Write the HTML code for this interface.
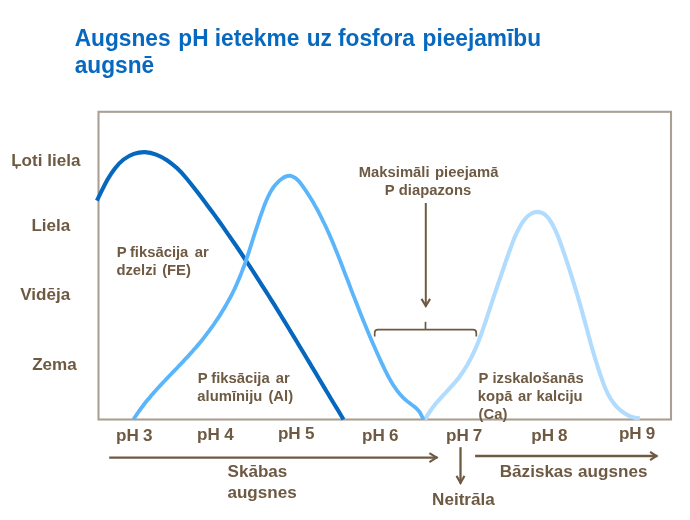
<!DOCTYPE html>
<html lang="lv">
<head>
<meta charset="utf-8">
<title>Augsnes pH ietekme uz fosfora pieejamību augsnē</title>
<style>
html,body{margin:0;padding:0;background:#fff;}
body{width:690px;height:520px;overflow:hidden;position:relative;font-family:"Liberation Sans",sans-serif;}
svg{position:absolute;left:0;top:0;display:block;}
text{font-family:"Liberation Sans",sans-serif;font-weight:bold;}
.t{fill:#0669bf;font-size:23px;}
.y{fill:#6e5a43;font-size:16.8px;}
.s{fill:#6e5a43;font-size:14.3px;}
</style>
</head>
<body>
<svg width="690" height="520" viewBox="0 0 690 520">
  <rect x="0" y="0" width="690" height="520" fill="#ffffff"/>


  <!-- chart frame -->
  <rect x="98.5" y="111.8" width="572.5" height="307.7" fill="none" stroke="#ab9f93" stroke-width="2.1"/>

  <!-- curves -->
  <path d="M96.9,200.6C98.4,197.5 100.1,194.0 101.9,190.4C103.7,186.7 105.6,182.9 107.7,179.2C109.9,175.4 112.3,171.7 114.9,168.4C117.5,165.0 120.4,162.0 123.6,159.5C126.8,157.1 130.2,155.2 133.8,153.9C137.4,152.6 141.2,152.0 144.9,152.1C148.7,152.3 152.5,153.2 156.2,154.6C159.9,156.0 163.5,157.9 167.0,160.2C170.5,162.6 173.8,165.2 176.9,168.1C179.9,170.9 182.7,173.9 185.3,177.0C188.0,180.1 190.5,183.3 193.0,186.5C195.5,189.6 197.9,192.8 200.4,196.0C202.8,199.2 205.2,202.4 207.6,205.7C210.0,208.9 212.4,212.2 214.8,215.4C217.1,218.7 219.5,221.9 221.8,225.2C224.1,228.5 226.4,231.8 228.7,235.1C231.0,238.4 233.3,241.7 235.6,245.0C237.8,248.3 240.1,251.7 242.3,255.0C244.5,258.4 246.7,261.7 249.0,265.1C251.2,268.4 253.4,271.8 255.5,275.2C257.7,278.6 259.9,281.9 262.0,285.3C264.2,288.7 266.3,292.1 268.5,295.5C270.6,298.9 272.8,302.3 274.9,305.7C277.0,309.2 279.1,312.6 281.2,316.0C283.3,319.4 285.4,322.9 287.5,326.3C289.6,329.7 291.7,333.2 293.8,336.6C295.9,340.1 297.9,343.5 300.0,347.0C302.1,350.4 304.2,353.9 306.2,357.3C308.3,360.8 310.4,364.2 312.4,367.7C314.5,371.1 316.6,374.6 318.6,378.0C320.7,381.5 322.8,385.0 324.8,388.4C326.9,391.9 329.0,395.3 331.0,398.8C333.1,402.2 335.2,405.7 337.3,409.1C339.3,412.6 341.4,416.1 343.5,419.5" fill="none" stroke="#0567bd" stroke-width="4.1"/>
  <path d="M425.1,419.6C426.0,417.8 426.9,416.1 428.0,414.4C429.0,412.7 430.1,411.1 431.3,409.5C432.5,407.8 433.7,406.3 434.9,404.7C436.2,403.2 437.5,401.6 438.9,400.1C440.2,398.6 441.6,397.1 442.9,395.6C444.3,394.1 445.7,392.6 447.1,391.1C448.5,389.6 449.9,388.1 451.2,386.6C452.6,385.1 453.9,383.6 455.2,382.1C456.5,380.5 457.8,379.0 459.0,377.4C460.2,375.8 461.4,374.1 462.5,372.5C463.6,370.9 464.7,369.2 465.7,367.5C466.8,365.8 467.8,364.1 468.7,362.3C469.7,360.6 470.6,358.8 471.5,357.1C472.4,355.3 473.3,353.5 474.1,351.7C474.9,349.9 475.7,348.0 476.5,346.2C477.3,344.3 478.0,342.5 478.8,340.6C479.5,338.7 480.2,336.9 480.9,335.0C481.6,333.1 482.3,331.2 482.9,329.3C483.6,327.4 484.3,325.5 484.9,323.5C485.6,321.6 486.2,319.7 486.8,317.8C487.5,315.8 488.1,313.9 488.7,312.0C489.3,310.1 490.0,308.1 490.6,306.2C491.2,304.3 491.9,302.4 492.5,300.5C493.2,298.5 493.8,296.6 494.4,294.7C495.1,292.8 495.7,290.9 496.4,289.0C497.0,287.1 497.7,285.1 498.3,283.2C499.0,281.3 499.6,279.4 500.3,277.5C500.9,275.7 501.6,273.8 502.2,271.9C502.9,270.0 503.5,268.1 504.2,266.2C504.8,264.4 505.5,262.5 506.1,260.6C506.8,258.7 507.4,256.9 508.1,255.0C508.7,253.2 509.4,251.3 510.1,249.5C510.7,247.6 511.4,245.8 512.1,243.9C512.8,242.1 513.5,240.3 514.2,238.4C515.0,236.6 515.8,234.7 516.7,232.9C517.6,231.0 518.6,229.2 519.6,227.3C520.6,225.4 521.8,223.5 523.0,221.7C524.2,220.0 525.6,218.3 527.0,216.8C528.5,215.4 530.1,214.2 531.8,213.3C533.5,212.5 535.4,212.0 537.3,211.9C539.2,211.9 541.1,212.3 542.7,213.2C544.4,214.0 545.9,215.3 547.3,216.9C548.7,218.4 549.9,220.2 551.1,222.1C552.2,224.0 553.3,225.9 554.2,227.8C555.1,229.7 556.0,231.6 556.8,233.5C557.6,235.3 558.3,237.2 559.0,239.0C559.7,240.8 560.3,242.7 561.0,244.5C561.7,246.4 562.3,248.2 563.0,250.1C563.6,252.0 564.3,253.8 564.9,255.7C565.5,257.6 566.2,259.5 566.8,261.4C567.4,263.3 568.1,265.2 568.7,267.1C569.3,269.0 569.9,270.9 570.5,272.8C571.1,274.7 571.7,276.6 572.3,278.6C572.9,280.5 573.5,282.4 574.1,284.3C574.7,286.3 575.3,288.2 575.9,290.1C576.4,292.1 577.0,294.0 577.6,295.9C578.2,297.9 578.7,299.8 579.3,301.8C579.8,303.7 580.4,305.7 581.0,307.6C581.5,309.5 582.0,311.5 582.6,313.4C583.1,315.4 583.7,317.3 584.2,319.3C584.7,321.2 585.3,323.1 585.8,325.1C586.3,327.0 586.8,328.9 587.4,330.9C587.9,332.8 588.4,334.7 588.9,336.7C589.5,338.6 590.0,340.5 590.5,342.5C591.1,344.4 591.6,346.3 592.1,348.2C592.7,350.2 593.2,352.1 593.8,354.0C594.3,355.9 594.9,357.8 595.5,359.8C596.1,361.7 596.7,363.6 597.3,365.5C597.9,367.4 598.5,369.3 599.1,371.2C599.7,373.1 600.4,375.0 601.1,376.9C601.7,378.8 602.4,380.7 603.1,382.6C603.8,384.5 604.5,386.4 605.3,388.3C606.1,390.1 606.9,391.9 607.8,393.7C608.8,395.5 609.7,397.3 610.8,399.0C611.9,400.7 613.0,402.3 614.3,403.9C615.5,405.5 616.9,407.0 618.4,408.4C619.8,409.8 621.4,411.1 623.0,412.2C624.6,413.4 626.4,414.4 628.2,415.3C630.0,416.2 631.8,416.9 633.8,417.4C635.7,417.9 637.7,418.2 639.8,418.3" fill="none" stroke="#b1dcfd" stroke-width="4.1"/>
  <path d="M133.5,419.4C134.4,418.0 135.3,416.6 136.2,415.2C137.2,413.8 138.1,412.4 139.1,411.0C140.1,409.7 141.1,408.3 142.1,407.0C143.1,405.7 144.1,404.3 145.1,403.0C146.2,401.7 147.2,400.4 148.3,399.1C149.4,397.9 150.4,396.6 151.5,395.3C152.6,394.0 153.7,392.8 154.8,391.5C155.9,390.3 157.0,389.1 158.2,387.8C159.3,386.6 160.4,385.4 161.6,384.1C162.7,382.9 163.8,381.7 165.0,380.5C166.1,379.3 167.3,378.0 168.5,376.8C169.6,375.6 170.8,374.4 171.9,373.2C173.1,372.0 174.3,370.8 175.4,369.6C176.6,368.4 177.7,367.2 178.9,365.9C180.1,364.7 181.2,363.5 182.4,362.3C183.5,361.1 184.7,359.9 185.8,358.6C187.0,357.4 188.1,356.2 189.2,354.9C190.4,353.7 191.5,352.4 192.6,351.2C193.7,349.9 194.8,348.7 195.9,347.4C197.0,346.1 198.1,344.8 199.2,343.6C200.2,342.3 201.3,341.0 202.4,339.7C203.4,338.3 204.5,337.0 205.5,335.7C206.5,334.4 207.5,333.0 208.5,331.7C209.5,330.3 210.5,329.0 211.5,327.6C212.5,326.2 213.5,324.9 214.4,323.5C215.4,322.1 216.3,320.7 217.2,319.3C218.2,317.9 219.1,316.5 220.0,315.1C220.9,313.7 221.8,312.2 222.6,310.8C223.5,309.4 224.4,308.0 225.2,306.5C226.0,305.1 226.9,303.6 227.7,302.1C228.5,300.7 229.3,299.2 230.1,297.8C230.9,296.3 231.6,294.8 232.4,293.3C233.1,291.8 233.8,290.3 234.6,288.8C235.3,287.3 236.0,285.8 236.7,284.3C237.3,282.8 238.0,281.3 238.6,279.8C239.3,278.3 239.9,276.7 240.5,275.2C241.1,273.7 241.7,272.1 242.3,270.6C242.9,269.0 243.5,267.5 244.1,265.9C244.6,264.4 245.2,262.8 245.7,261.3C246.2,259.7 246.8,258.2 247.3,256.6C247.8,255.0 248.4,253.5 248.9,251.9C249.4,250.3 249.9,248.7 250.4,247.1C250.9,245.6 251.4,244.0 251.9,242.4C252.4,240.8 252.9,239.2 253.4,237.6C253.9,236.0 254.4,234.4 254.9,232.9C255.5,231.3 256.0,229.7 256.5,228.1C257.0,226.5 257.5,224.9 258.1,223.3C258.6,221.7 259.1,220.1 259.7,218.5C260.2,216.9 260.8,215.3 261.4,213.7C261.9,212.1 262.5,210.4 263.1,208.8C263.7,207.2 264.3,205.6 264.9,204.0C265.6,202.4 266.2,200.8 266.9,199.3C267.6,197.7 268.3,196.1 269.1,194.6C269.8,193.1 270.6,191.6 271.5,190.2C272.4,188.7 273.3,187.4 274.4,186.0C275.4,184.7 276.5,183.5 277.7,182.3C278.9,181.1 280.1,180.0 281.5,179.0C282.9,178.0 284.4,177.0 286.0,176.4C287.6,175.8 289.2,175.6 290.8,175.9C292.4,176.3 294.0,177.1 295.5,178.1C296.9,179.1 298.1,180.3 299.2,181.6C300.3,182.8 301.3,184.2 302.3,185.6C303.3,187.0 304.3,188.4 305.2,189.8C306.1,191.2 307.1,192.6 308.0,194.0C308.9,195.4 309.8,196.8 310.7,198.3C311.6,199.7 312.4,201.1 313.3,202.6C314.1,204.0 314.9,205.5 315.8,207.0C316.6,208.4 317.4,209.9 318.2,211.4C318.9,212.8 319.7,214.3 320.5,215.8C321.2,217.3 322.0,218.8 322.7,220.3C323.5,221.8 324.2,223.3 324.9,224.8C325.6,226.3 326.3,227.8 327.0,229.3C327.7,230.9 328.4,232.4 329.1,233.9C329.8,235.4 330.4,237.0 331.1,238.5C331.7,240.0 332.4,241.6 333.0,243.1C333.7,244.7 334.3,246.2 334.9,247.7C335.6,249.3 336.2,250.8 336.8,252.4C337.4,253.9 338.1,255.5 338.7,257.1C339.3,258.6 339.9,260.2 340.5,261.7C341.1,263.3 341.7,264.8 342.3,266.4C342.9,268.0 343.5,269.5 344.1,271.1C344.7,272.6 345.3,274.2 345.9,275.8C346.5,277.3 347.1,278.9 347.7,280.4C348.3,282.0 348.9,283.5 349.5,285.1C350.1,286.7 350.7,288.2 351.2,289.8C351.8,291.3 352.4,292.9 353.0,294.4C353.6,296.0 354.2,297.5 354.9,299.1C355.5,300.7 356.1,302.2 356.7,303.8C357.3,305.3 357.9,306.9 358.5,308.4C359.1,310.0 359.7,311.5 360.3,313.1C361.0,314.6 361.6,316.2 362.2,317.7C362.8,319.3 363.4,320.8 364.1,322.4C364.7,323.9 365.3,325.4 366.0,327.0C366.6,328.5 367.2,330.1 367.9,331.6C368.5,333.2 369.2,334.7 369.8,336.3C370.5,337.8 371.1,339.3 371.8,340.9C372.5,342.4 373.1,344.0 373.8,345.5C374.5,347.0 375.2,348.6 375.8,350.1C376.5,351.7 377.2,353.2 377.9,354.7C378.6,356.3 379.3,357.8 380.0,359.4C380.7,360.9 381.4,362.4 382.1,364.0C382.9,365.5 383.6,367.0 384.3,368.6C385.1,370.1 385.8,371.6 386.6,373.1C387.3,374.6 388.1,376.1 388.9,377.6C389.7,379.1 390.6,380.6 391.4,382.0C392.3,383.5 393.1,384.9 394.1,386.3C395.0,387.7 395.9,389.0 396.9,390.3C397.9,391.7 399.0,393.0 400.0,394.2C401.1,395.4 402.3,396.7 403.4,397.8C404.6,399.0 405.9,400.1 407.1,401.1C408.4,402.2 409.8,403.2 411.1,404.2C412.5,405.2 413.8,406.2 415.1,407.3C416.4,408.4 417.6,409.5 418.6,410.8C419.7,412.1 420.6,413.6 421.3,415.1C422.1,416.6 422.8,418.2 423.4,419.6" fill="none" stroke="#5bb5fa" stroke-width="3.8"/>




  <!-- arrows and bracket -->
  <g stroke="#6e5a43" stroke-width="2.1" fill="none" stroke-linecap="butt" stroke-linejoin="miter">
    <path d="M425.8,203 V306.5" stroke-width="2"/>
    <path d="M421.5,298.9 L425.8,306 L430.1,298.9"/>
    <path d="M374.7,336.6 V333 Q374.7,329.7 378.1,329.7 H473 Q476.3,329.7 476.3,333 V336.6" stroke-width="1.7"/>
    <path d="M425.5,329.7 V321.8" stroke-width="1.7"/>
    <path d="M109.2,457.6 H437.5" stroke-width="2.3"/>
    <path d="M429.4,453.1 L436.6,457.6 L429.4,462.1"/>
    <path d="M475.1,456 H657.4" stroke-width="2.3"/>
    <path d="M650.1,451.8 L656.5,456 L650.1,460.2"/>
    <path d="M460.5,447.2 V483.5" stroke-width="2.3"/>
    <path d="M456.5,475.9 L460.5,482.8 L464.5,475.9"/>
  </g>

  <g><text class="t" x="74.73" y="45.8" textLength="95.87" lengthAdjust="spacingAndGlyphs">Augsnes</text> <text class="t" x="178.28" y="45.8" textLength="30.26" lengthAdjust="spacingAndGlyphs">pH</text> <text class="t" x="214.76" y="45.8" textLength="84.56" lengthAdjust="spacingAndGlyphs">ietekme</text> <text class="t" x="306.72" y="45.8" textLength="25.22" lengthAdjust="spacingAndGlyphs">uz</text> <text class="t" x="337.98" y="45.8" textLength="76.94" lengthAdjust="spacingAndGlyphs">fosfora</text> <text class="t" x="422.53" y="45.8" textLength="118.59" lengthAdjust="spacingAndGlyphs">pieejamību</text></g>
  <g><text class="t" x="74.75" y="72.8" textLength="79.48" lengthAdjust="spacingAndGlyphs">augsnē</text></g>
  <g><text class="y" x="11.19" y="165.6" textLength="31.30" lengthAdjust="spacingAndGlyphs">Ļoti</text> <text class="y" x="47.21" y="165.6" textLength="33.23" lengthAdjust="spacingAndGlyphs">liela</text></g>
  <g><text class="y" x="31.42" y="230.8" textLength="38.92" lengthAdjust="spacingAndGlyphs">Liela</text></g>
  <g><text class="y" x="20.28" y="299.8" textLength="50.00" lengthAdjust="spacingAndGlyphs">Vidēja</text></g>
  <g><text class="y" x="32.15" y="370.4" textLength="44.61" lengthAdjust="spacingAndGlyphs">Zema</text></g>
  <g><text class="y" x="116.13" y="440.9" textLength="22.76" lengthAdjust="spacingAndGlyphs">pH</text> <text class="y" x="142.98" y="440.9" textLength="9.50" lengthAdjust="spacingAndGlyphs">3</text></g>
  <g><text class="y" x="197.13" y="440.4" textLength="22.76" lengthAdjust="spacingAndGlyphs">pH</text> <text class="y" x="224.35" y="440.4" textLength="9.50" lengthAdjust="spacingAndGlyphs">4</text></g>
  <g><text class="y" x="277.91" y="439.0" textLength="22.76" lengthAdjust="spacingAndGlyphs">pH</text> <text class="y" x="305.10" y="439.0" textLength="9.50" lengthAdjust="spacingAndGlyphs">5</text></g>
  <g><text class="y" x="362.13" y="440.9" textLength="22.76" lengthAdjust="spacingAndGlyphs">pH</text> <text class="y" x="388.95" y="440.9" textLength="9.50" lengthAdjust="spacingAndGlyphs">6</text></g>
  <g><text class="y" x="446.13" y="440.9" textLength="22.76" lengthAdjust="spacingAndGlyphs">pH</text> <text class="y" x="472.65" y="440.9" textLength="9.50" lengthAdjust="spacingAndGlyphs">7</text></g>
  <g><text class="y" x="531.30" y="440.9" textLength="22.76" lengthAdjust="spacingAndGlyphs">pH</text> <text class="y" x="558.14" y="440.9" textLength="9.50" lengthAdjust="spacingAndGlyphs">8</text></g>
  <g><text class="y" x="618.91" y="439.2" textLength="22.76" lengthAdjust="spacingAndGlyphs">pH</text> <text class="y" x="645.85" y="439.2" textLength="9.50" lengthAdjust="spacingAndGlyphs">9</text></g>
  <g><text class="s" x="116.81" y="257.3" textLength="9.87" lengthAdjust="spacingAndGlyphs">P</text> <text class="s" x="129.95" y="257.3" textLength="58.42" lengthAdjust="spacingAndGlyphs">fiksācija</text> <text class="s" x="194.77" y="257.3" textLength="13.99" lengthAdjust="spacingAndGlyphs">ar</text></g>
  <g><text class="s" x="116.40" y="275.3" textLength="40.30" lengthAdjust="spacingAndGlyphs">dzelzi</text> <text class="s" x="162.17" y="275.3" textLength="28.77" lengthAdjust="spacingAndGlyphs">(FE)</text></g>
  <g><text class="s" x="197.81" y="383.3" textLength="9.87" lengthAdjust="spacingAndGlyphs">P</text> <text class="s" x="211.21" y="383.3" textLength="58.42" lengthAdjust="spacingAndGlyphs">fiksācija</text> <text class="s" x="275.77" y="383.3" textLength="13.99" lengthAdjust="spacingAndGlyphs">ar</text></g>
  <g><text class="s" x="197.39" y="401.3" textLength="64.96" lengthAdjust="spacingAndGlyphs">alumīniju</text> <text class="s" x="268.44" y="401.3" textLength="24.66" lengthAdjust="spacingAndGlyphs">(Al)</text></g>
  <g><text class="s" x="478.50" y="383.3" textLength="9.87" lengthAdjust="spacingAndGlyphs">P</text> <text class="s" x="492.44" y="383.3" textLength="91.33" lengthAdjust="spacingAndGlyphs">izskalošanās</text></g>
  <g><text class="s" x="477.88" y="401.3" textLength="34.54" lengthAdjust="spacingAndGlyphs">kopā</text> <text class="s" x="518.11" y="401.3" textLength="13.99" lengthAdjust="spacingAndGlyphs">ar</text> <text class="s" x="536.57" y="401.3" textLength="46.07" lengthAdjust="spacingAndGlyphs">kalciju</text></g>
  <g><text class="s" x="478.60" y="419.3" textLength="28.78" lengthAdjust="spacingAndGlyphs">(Ca)</text></g>
  <g><text class="s" x="358.78" y="177.3" textLength="70.75" lengthAdjust="spacingAndGlyphs">Maksimāli</text> <text class="s" x="435.03" y="177.3" textLength="63.35" lengthAdjust="spacingAndGlyphs">pieejamā</text></g>
  <g><text class="s" x="384.85" y="195.3" textLength="9.87" lengthAdjust="spacingAndGlyphs">P</text> <text class="s" x="398.80" y="195.3" textLength="72.37" lengthAdjust="spacingAndGlyphs">diapazons</text></g>
  <g><text class="y" x="227.51" y="477.2" textLength="59.81" lengthAdjust="spacingAndGlyphs">Skābas</text></g>
  <g><text class="y" x="227.45" y="498" textLength="69.29" lengthAdjust="spacingAndGlyphs">augsnes</text></g>
  <g><text class="y" x="499.77" y="476.6" textLength="73.11" lengthAdjust="spacingAndGlyphs">Bāziskas</text> <text class="y" x="578.10" y="476.6" textLength="69.29" lengthAdjust="spacingAndGlyphs">augsnes</text></g>
  <g><text class="y" x="432.10" y="504.6" textLength="62.65" lengthAdjust="spacingAndGlyphs">Neitrāla</text></g>
</svg>
</body>
</html>
